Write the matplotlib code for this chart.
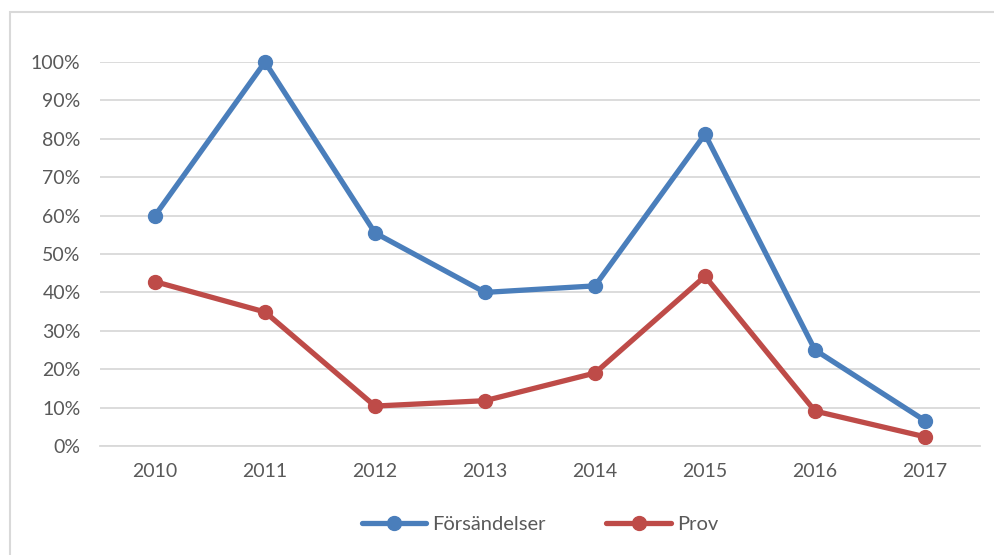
import matplotlib.pyplot as plt
from matplotlib.patches import Rectangle
from matplotlib.ticker import PercentFormatter

years = ["2010", "2011", "2012", "2013", "2014", "2015", "2016", "2017"]
forsandelser = [60.0, 100.0, 55.5, 40.0, 41.7, 81.2, 25.0, 6.6]
prov = [42.8, 34.9, 10.4, 11.8, 19.0, 44.2, 9.1, 2.4]

plt.rcParams['font.family'] = ['Lato', 'DejaVu Sans']

fig = plt.figure(figsize=(9.94, 5.55), dpi=100)
ax = fig.add_axes([100 / 994, 1 - 446 / 555, 880 / 994, 384 / 555])

# chart frame (only left and top edges visible in the reference)
fig.patches.append(Rectangle((10 / 994, -0.1), 1.2, 1 - 12 / 555 + 0.1,
                             transform=fig.transFigure, fill=False,
                             edgecolor="#d9d9d9", linewidth=1.5))

x = range(len(years))
ax.plot(x, forsandelser, color="#4a7ebb", linewidth=3.8, marker="o",
        markersize=10, label="Försändelser", solid_capstyle="round")
ax.plot(x, prov, color="#be4b48", linewidth=3.8, marker="o",
        markersize=10, label="Prov", solid_capstyle="round")

ax.set_xlim(-0.5, len(years) - 0.5)
ax.set_ylim(0, 100)
ax.set_yticks(range(0, 101, 10))
ax.yaxis.set_major_formatter(PercentFormatter(decimals=0))
ax.set_xticks(list(x))
ax.set_xticklabels(years)
ax.grid(axis="y", color="#d9d9d9", linewidth=1.3)
ax.set_axisbelow(True)
for side in ["top", "right", "left"]:
    ax.spines[side].set_visible(False)
ax.spines["bottom"].set_color("#d9d9d9")
ax.spines["bottom"].set_linewidth(1.3)
ax.tick_params(axis="both", length=0, labelsize=14, labelcolor="#595959")
ax.tick_params(axis="x", pad=12)
ax.tick_params(axis="y", pad=14)
for line in ax.lines:
    line.set_clip_on(False)

ax.legend(loc="upper center", bbox_to_anchor=(0.5, -0.135), ncol=2,
          frameon=False, fontsize=14.5, labelcolor="#595959",
          handlelength=3.2, columnspacing=3.0, handletextpad=0.3)

fig.savefig("out.png", dpi=100)
